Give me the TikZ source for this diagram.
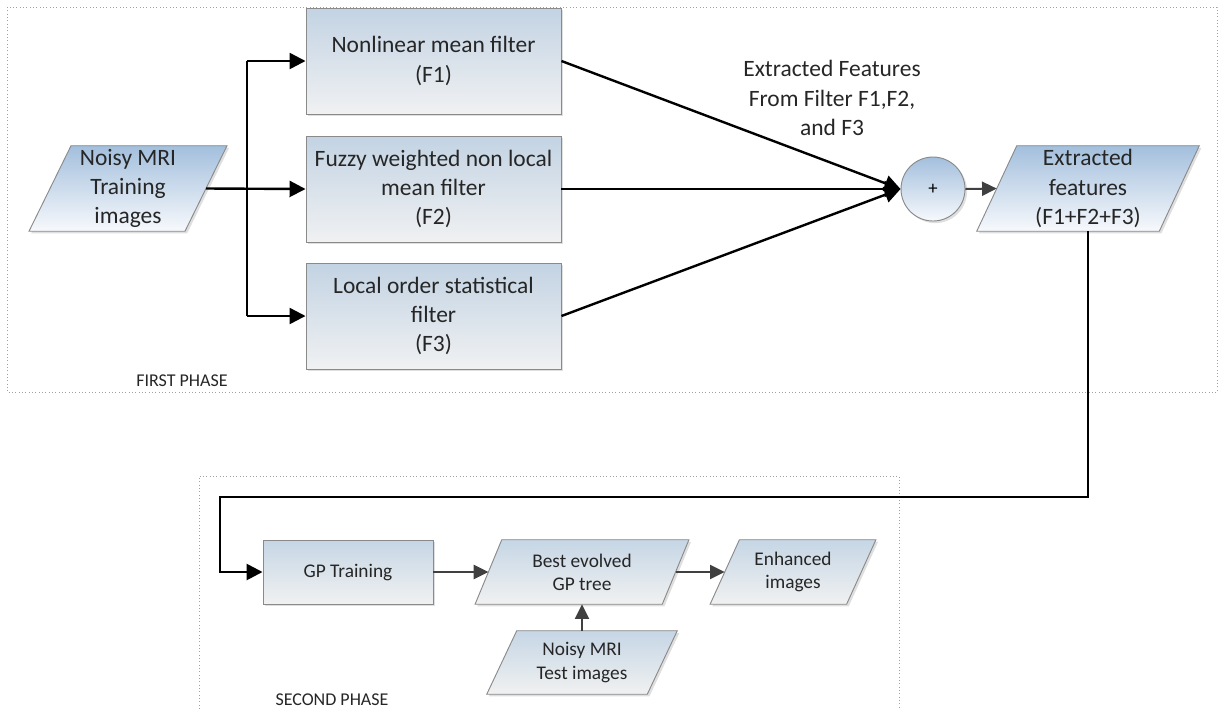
\documentclass[tikz,border=0pt]{standalone}
\usepackage{fontspec}
\setmainfont{Carlito}
\usetikzlibrary{arrows.meta,shadows,backgrounds}
\definecolor{bordergray}{HTML}{8A8A8A}
\definecolor{rtop}{HTML}{C3D3E3}
\definecolor{rbot}{HTML}{F0F1F2}
\definecolor{ptop}{HTML}{A3BFDD}
\definecolor{pbot}{HTML}{F7F9FC}
\definecolor{qtop}{HTML}{C6D6E5}
\definecolor{qbot}{HTML}{F0F1F1}
\definecolor{darkarrow}{HTML}{404040}
\definecolor{framegray}{HTML}{A0A0A0}
\tikzset{
  shadowed/.style={drop shadow={shadow xshift=1.6pt,shadow yshift=-1.6pt,opacity=0.25,fill=gray}},
  bigtxt/.style={font=\fontsize{17.6}{22}\selectfont,align=center,text=black!85},
  smalltxt/.style={font=\fontsize{14.5}{17.3}\selectfont,align=center,text=black!85},
  filterbox/.style={rectangle,draw=bordergray,line width=0.7pt,top color=rtop,bottom color=rbot,shadowed,minimum width=191.25pt,minimum height=79.5pt,inner sep=0pt,bigtxt},
  gpbox/.style={rectangle,draw=bordergray,line width=0.7pt,top color=qtop,bottom color=qbot,shadowed,minimum width=127.5pt,minimum height=48pt,inner sep=0pt,smalltxt},
  paratext/.style={rectangle,draw=none,inner sep=0pt},
  pshapeA/.style={draw=bordergray,line width=0.7pt,top color=ptop,bottom color=pbot,shadowed},
  pshapeB/.style={draw=bordergray,line width=0.7pt,top color=qtop,bottom color=qbot,shadowed},
  sumnode/.style={circle,draw=bordergray,line width=0.7pt,top color=ptop,bottom color=pbot,shadowed,minimum size=48pt,inner sep=0pt,font=\fontsize{14}{16}\selectfont},
  blackline/.style={black,line width=1.8pt},
  blackarrow/.style={black,line width=1.8pt,-{Triangle[length=12pt,width=12pt]}},
  grayarrow/.style={darkarrow,line width=1.5pt,-{Triangle[length=11pt,width=10.5pt]}},
  loopline/.style={black,line width=2pt,-{Triangle[length=12pt,width=12pt]}},
  phaseframe/.style={framegray,line width=0.5pt,dotted},
  phaselabel/.style={font=\fontsize{13.5}{15}\selectfont,text=black!85}
}
\newcommand\drawpara[3]{%
  \begin{scope}[on background layer]
    \path[#3] ([xshift=#2/2]#1.north west) -- ([xshift=#2/2]#1.north east) -- ([xshift=-#2/2]#1.south east) -- ([xshift=-#2/2]#1.south west) -- cycle;
  \end{scope}}
\begin{document}
\begin{tikzpicture}[x=0.75pt,y=-0.75pt]
\useasboundingbox (0,0) rectangle (1221,708);
% phase frames
\draw[phaseframe] (7,7) rectangle (1217,392);
\draw[phaseframe] (199,712) -- (199,476) -- (899,476) -- (899,712);
\node[phaselabel] (lab1) at (182,381) {FIRST PHASE};
\node[phaselabel] (lab2) at (332,700) {SECOND PHASE};
% phase 1 nodes
\node[paratext,bigtxt,minimum width=116.6pt,minimum height=63.75pt] (in) at (128,188.5) {Noisy MRI\\Training\\images};
\drawpara{in}{31.5pt}{pshapeA}
\node[filterbox] (f1) at (433.5,61) {Nonlinear mean filter\\(F1)};
\node[filterbox] (f2) at (433.5,189) {Fuzzy weighted non local\\mean filter\\(F2)};
\node[filterbox] (f3) at (433.5,316) {Local order statistical\\filter\\(F3)};
\node[sumnode] (sum) at (933,189) {+};
\node[paratext,bigtxt,minimum width=136.5pt,minimum height=63.75pt] (ext) at (1088,188.5) {Extracted\\features\\(F1+F2+F3)};
\drawpara{ext}{30pt}{pshapeA}
\node[bigtxt] (lbl) at (832,98) {Extracted Features\\From Filter F1,F2,\\and F3};
% phase 2 nodes
\node[gpbox] (gp) at (348,572) {GP Training};
\node[paratext,smalltxt,minimum width=140pt,minimum height=48pt] (best) at (582,572) {Best evolved\\GP tree};
\drawpara{best}{20pt}{pshapeB}
\node[paratext,smalltxt,minimum width=102pt,minimum height=48pt] (enh) at (793,572) {Enhanced\\images};
\drawpara{enh}{22pt}{pshapeB}
\node[paratext,smalltxt,minimum width=120pt,minimum height=47.25pt] (test) at (582,662.5) {Noisy MRI\\Test images};
\drawpara{test}{22.5pt}{pshapeB}
% phase 1 connectors
\coordinate (br) at (247,189);
\draw[blackline] (br |- f1.west) -- (br |- f3.west);
\draw[blackarrow] (br |- f1.west) -- (f1.west);
\draw[blackarrow] (in.east) -- (f2.west);
\draw[blackarrow] (br |- f3.west) -- (f3.west);
\draw[blackarrow] (f1.east) -- (sum.west);
\draw[blackarrow] (f2.east) -- (sum.west);
\draw[blackarrow] (f3.east) -- (sum.west);
\draw[grayarrow] (sum.east) -- (ext.west);
% loop to phase 2
\coordinate (turn) at (220,497);
\draw[loopline] (ext.south) |- (turn) |- (gp.west);
% phase 2 connectors
\draw[grayarrow] (gp.east) -- (best.west);
\draw[grayarrow] (best.east) -- (enh.west);
\draw[grayarrow] (test.north) -- (best.south);
\end{tikzpicture}
\end{document}
